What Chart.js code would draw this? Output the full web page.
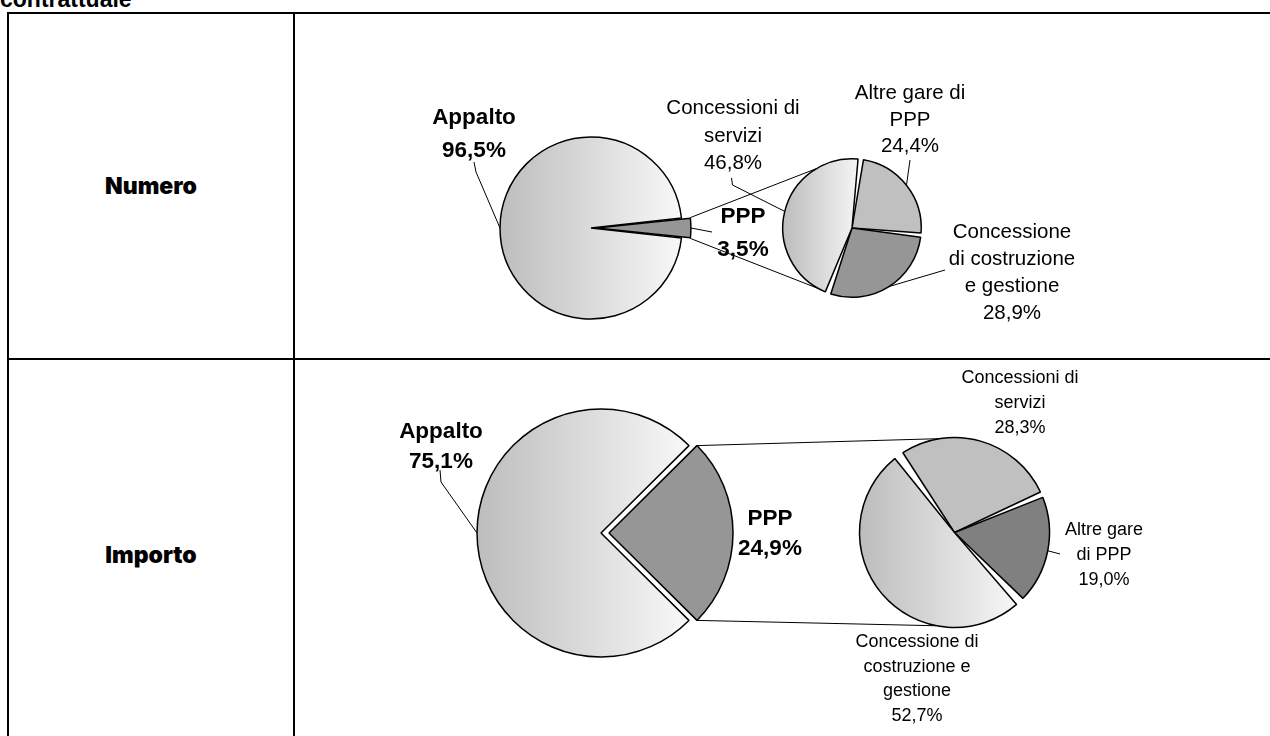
<!DOCTYPE html>
<html lang="it">
<head>
<meta charset="utf-8">
<title>Appalto e PPP per tipologia contrattuale</title>
<script src="https://cdn.jsdelivr.net/npm/chart.js@4.4.1/dist/chart.umd.min.js"></script>
<style>
  html, body { margin: 0; padding: 0; background: #fff; }
  body { width: 1270px; height: 736px; position: relative; overflow: hidden;
         font-family: "Liberation Sans", Arial, sans-serif; color: #000; }
  .titolo { position: absolute; left: 0; top: -12px; font-weight: bold; font-size: 23px; line-height: 22px; white-space: nowrap; }
  .linea { position: absolute; background: #000; }
  .voce { position: absolute; left: 9px; width: 284px; text-align: center;
          font-family: "Arial Black", "Inter", sans-serif; font-weight: 900; font-size: 23px; line-height: 30px; }
  .riga { position: absolute; }
  .riga canvas { position: absolute; left: 0; top: 0; }
  .etichetta { position: absolute; text-align: center; white-space: nowrap; transform: translateX(-50%); }
</style>
</head>
<body>
<div class="titolo">contrattuale</div>

<!-- griglia della tabella -->
<div class="linea" style="left:7px; top:12px; width:1263px; height:2px;"></div>
<div class="linea" style="left:7px; top:12px; width:2px; height:724px;"></div>
<div class="linea" style="left:293px; top:12px; width:2px; height:724px;"></div>
<div class="linea" style="left:7px; top:358px; width:1263px; height:2px;"></div>

<div class="voce" style="top:171px;">Numero</div>
<div class="voce" style="top:540px;">Importo</div>

<div class="riga" style="left:295px; top:14px; width:975px; height:344px;">
  <canvas id="numero-principale" width="975" height="344"></canvas>
  <canvas id="numero-ppp" width="975" height="344"></canvas>
</div>
<div class="riga" style="left:295px; top:360px; width:975px; height:376px;">
  <canvas id="importo-principale" width="975" height="376"></canvas>
  <canvas id="importo-ppp" width="975" height="376"></canvas>
</div>

<script>
// Valori (percentuali)
const tipiContratto = ['PPP', 'Appalto'];
const numeroContratti = [3.5, 96.5];
const importoContratti = [24.9, 75.1];

const tipiPPPNumero = ['Altre gare di PPP', 'Concessione di costruzione e gestione', 'Concessioni di servizi'];
const numeroPPP = [24.4, 28.9, 46.8];

const tipiPPPImporto = ['Concessioni di servizi', 'Altre gare di PPP', 'Concessione di costruzione e gestione'];
const importoPPP = [28.3, 19.0, 52.7];

// Colori delle fette ('sfumato' = riempimento sfumato grigio/bianco)
const coloriPrincipale = ['#969696', 'sfumato'];
const coloriPPPNumero = ['#c0c0c0', '#969696', 'sfumato'];
const coloriPPPImporto = ['#c0c0c0', '#808080', 'sfumato'];

// Formatta una percentuale all'italiana
function formatta(v) {
    return v.toFixed(1).replace('.', ',') + '%';
}

// Rotazione che centra la fetta PPP sul lato destro
function rotazioneCentrata(valori) {
    const totale = valori.reduce((a, b) => a + b, 0);
    return 90 - (valori[0] / totale) * 180;
}

// Sfumatura orizzontale sull'estensione della fetta
function riempimento(colori, valori, rotazione, raggio) {
    return function(context) {
        const c = colori[context.dataIndex];
        if (c !== 'sfumato') return c;
        const chart = context.chart;
        const area = chart.chartArea;
        if (!area) return '#dcdcdc';
        const cx = (area.left + area.right) / 2;
        const totale = valori.reduce((a, b) => a + b, 0);
        let inizio = (rotazione - 90) * Math.PI / 180;
        for (let i = 0; i < context.dataIndex; i++) inizio += valori[i] / totale * 2 * Math.PI;
        const fine = inizio + valori[context.dataIndex] / totale * 2 * Math.PI;
        let min = Math.min(0, Math.cos(inizio), Math.cos(fine));
        let max = Math.max(0, Math.cos(inizio), Math.cos(fine));
        for (let k = -4; k <= 4; k++) {
            const a = k * Math.PI;
            if (a > inizio && a < fine) {
                if (k % 2 === 0) max = 1; else min = -1;
            }
        }
        const g = chart.ctx.createLinearGradient(cx + min * raggio, 0, cx + max * raggio, 0);
        g.addColorStop(0, '#bdbdbd');
        g.addColorStop(1, '#f8f8f8');
        return g;
    };
}

// Punto sul bordo esterno di una fetta (tiene conto di offset e spacing)
function puntoArco(el, angolo) {
    const o = (el.options.offset || 0) / 4;
    const s = (el.options.spacing || 0) / 2;
    const mezzo = (el.startAngle + el.endAngle) / 2;
    const fix = 1 - Math.sin(Math.min(Math.PI, el.circumference || 0));
    const r = el.outerRadius + s + o * fix;
    return {
        x: el.x + Math.cos(mezzo) * o + Math.cos(angolo) * r,
        y: el.y + Math.sin(mezzo) * o + Math.sin(angolo) * r
    };
}

// Linee di collegamento tra le torte e linee di richiamo delle etichette
function pluginLinee(riga, getPrincipale, angoliCollegamento, richiami) {
    return {
        id: 'linee',
        beforeDatasetsDraw(chart) {
            const principale = getPrincipale();
            const ppp = principale.getDatasetMeta(0).data[0];
            const sec = chart.getDatasetMeta(0).data[0];
            const s = (sec.options.spacing || 0) / 2;
            const angoliPPP = [ppp.startAngle, ppp.endAngle];
            const ctx = chart.ctx;
            ctx.save();
            ctx.strokeStyle = '#000';
            ctx.lineWidth = 1;
            angoliCollegamento.forEach((gradi, i) => {
                const a = puntoArco(ppp, angoliPPP[i]);
                const b = gradi * Math.PI / 180;
                ctx.beginPath();
                ctx.moveTo(a.x, a.y);
                ctx.lineTo(sec.x + Math.cos(b) * (sec.outerRadius + s), sec.y + Math.sin(b) * (sec.outerRadius + s));
                ctx.stroke();
            });
            ctx.restore();
        },
        afterDatasetsDraw(chart) {
            const principale = getPrincipale();
            const ctx = chart.ctx;
            ctx.save();
            ctx.strokeStyle = '#000';
            ctx.lineWidth = 1;
            richiami.forEach(r => {
                if (!r.richiamo) return;
                const grafico = r.torta === 'principale' ? principale : chart;
                const el = grafico.getDatasetMeta(0).data[r.indice];
                const p = puntoArco(el, (el.startAngle + el.endAngle) / 2);
                ctx.beginPath();
                r.richiamo.forEach((q, i) => {
                    if (i === 0) ctx.moveTo(q[0] - riga.x, q[1] - riga.y);
                    else ctx.lineTo(q[0] - riga.x, q[1] - riga.y);
                });
                ctx.lineTo(p.x, p.y);
                ctx.stroke();
            });
            ctx.restore();
        }
    };
}

// Crea una torta in una riga; cx, cy sono coordinate della pagina
function creaTorta(idCanvas, riga, etichette, valori, colori, geo, plugins) {
    const cx = geo.cx - riga.x;
    const cy = geo.cy - riga.y;
    const m = geo.raggio + 10;
    return new Chart(document.getElementById(idCanvas), {
        type: 'pie',
        data: {
            labels: etichette,
            datasets: [{
                data: valori,
                backgroundColor: riempimento(colori, valori, geo.rotazione, geo.raggio),
                borderColor: '#000',
                borderWidth: 1.5,
                offset: geo.offset || 0,
                spacing: geo.spacing || 0,
                radius: geo.raggio,
                rotation: geo.rotazione
            }]
        },
        options: {
            responsive: false,
            animation: false,
            events: [],
            layout: {
                padding: { left: cx - m, right: riga.w - cx - m, top: cy - m, bottom: riga.h - cy - m }
            },
            plugins: {
                legend: { display: false },
                tooltip: { enabled: false }
            }
        },
        plugins: plugins || []
    });
}

function scriviEtichetta(e, valore) {
    const div = document.createElement('div');
    div.className = 'etichetta';
    div.style.left = e.cx + 'px';
    div.style.top = (e.y - e.passo / 2) + 'px';
    div.style.fontSize = e.corpo + 'px';
    div.style.lineHeight = e.passo + 'px';
    if (e.grassetto) div.style.fontWeight = 'bold';
    e.righe.concat([formatta(valore)]).forEach(t => {
        const r = document.createElement('div');
        r.textContent = t;
        div.appendChild(r);
    });
    document.body.appendChild(div);
}

// ---- Riga "Numero" ----
const rigaNumero = { x: 295, y: 14, w: 975, h: 344 };
const etichetteNumero = [
    { torta: 'principale', indice: 1, righe: ['Appalto'], grassetto: true, corpo: 22.5, passo: 33, cx: 474, y: 116,
      richiamo: [[474, 162], [476, 172]] },
    { torta: 'principale', indice: 0, righe: ['PPP'], grassetto: true, corpo: 22.5, passo: 33, cx: 743, y: 215,
      richiamo: [[712, 232]] },
    { torta: 'ppp', indice: 2, righe: ['Concessioni di', 'servizi'], corpo: 20.5, passo: 27.5, cx: 733, y: 107,
      richiamo: [[731.5, 178], [732.5, 185]] },
    { torta: 'ppp', indice: 0, righe: ['Altre gare di', 'PPP'], corpo: 20.5, passo: 26.5, cx: 910, y: 92.5,
      richiamo: [[910, 160]] },
    { torta: 'ppp', indice: 1, righe: ['Concessione', 'di costruzione', 'e gestione'], corpo: 20.5, passo: 27, cx: 1012, y: 230,
      richiamo: [[945, 270]] }
];

const numeroPrincipale = creaTorta('numero-principale', rigaNumero, tipiContratto, numeroContratti, coloriPrincipale,
    { cx: 591, cy: 228, raggio: 91, rotazione: rotazioneCentrata(numeroContratti), offset: [20, 0] });

creaTorta('numero-ppp', rigaNumero, tipiPPPNumero, numeroPPP, coloriPPPNumero,
    { cx: 852, cy: 228, raggio: 68, rotazione: 8, spacing: 2.5 },
    [pluginLinee(rigaNumero, () => numeroPrincipale, [-121, 119], etichetteNumero)]);

etichetteNumero.forEach(e => {
    const valori = e.torta === 'principale' ? numeroContratti : numeroPPP;
    scriviEtichetta(e, valori[e.indice]);
});

// ---- Riga "Importo" ----
const rigaImporto = { x: 295, y: 360, w: 975, h: 376 };
const etichetteImporto = [
    { torta: 'principale', indice: 1, righe: ['Appalto'], grassetto: true, corpo: 22.5, passo: 30, cx: 441, y: 430.5,
      richiamo: [[440, 470], [441, 482]] },
    { torta: 'principale', indice: 0, righe: ['PPP'], grassetto: true, corpo: 22.5, passo: 30, cx: 770, y: 517.5 },
    { torta: 'ppp', indice: 0, righe: ['Concessioni di', 'servizi'], corpo: 18, passo: 25, cx: 1020, y: 377 },
    { torta: 'ppp', indice: 1, righe: ['Altre gare', 'di PPP'], corpo: 18, passo: 25, cx: 1104, y: 529,
      richiamo: [[1060, 554]] },
    { torta: 'ppp', indice: 2, righe: ['Concessione di', 'costruzione e', 'gestione'], corpo: 18, passo: 24.5, cx: 917, y: 641.5 }
];

const importoPrincipale = creaTorta('importo-principale', rigaImporto, tipiContratto, importoContratti, coloriPrincipale,
    { cx: 601, cy: 533, raggio: 124, rotazione: rotazioneCentrata(importoContratti), offset: [32, 0] });

creaTorta('importo-ppp', rigaImporto, tipiPPPImporto, importoPPP, coloriPPPImporto,
    { cx: 954.5, cy: 532.5, raggio: 93, rotazione: -35, spacing: 4 },
    [pluginLinee(rigaImporto, () => importoPrincipale, [-99, 101], etichetteImporto)]);

etichetteImporto.forEach(e => {
    const valori = e.torta === 'principale' ? importoContratti : importoPPP;
    scriviEtichetta(e, valori[e.indice]);
});
</script>
</body>
</html>
